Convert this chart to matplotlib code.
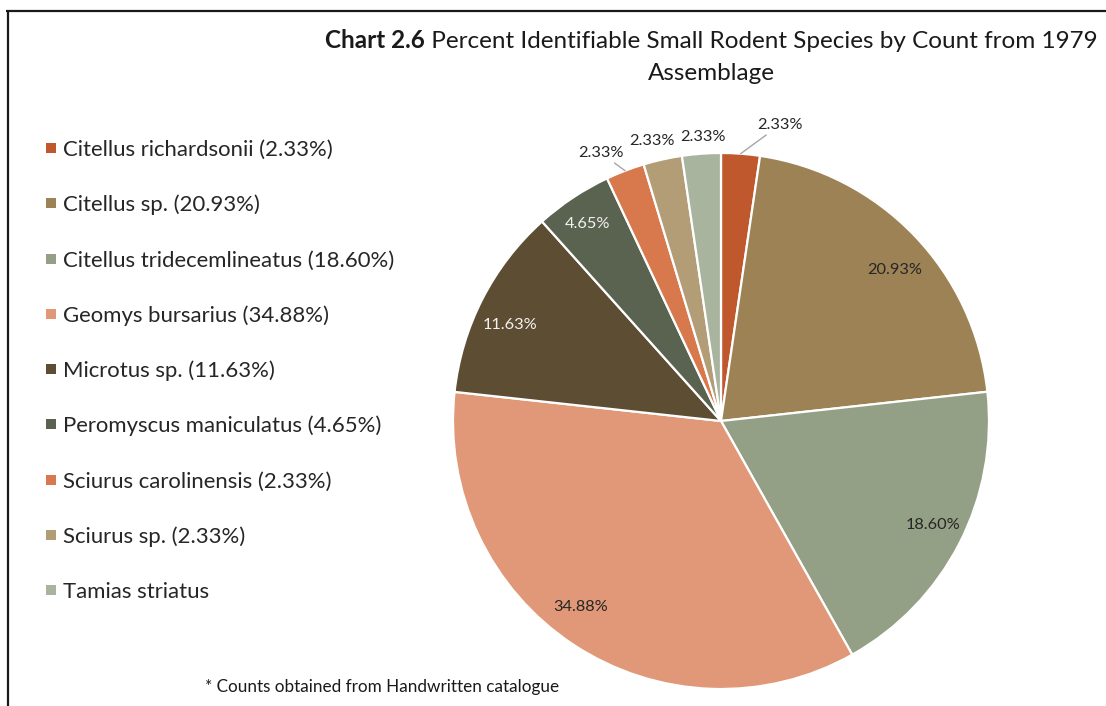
import matplotlib
matplotlib.use("Agg")
import numpy as np
import matplotlib.pyplot as plt
from matplotlib.patches import Rectangle

# ---- data ----
species = ["Citellus richardsonii", "Citellus sp.", "Citellus tridecemlineatus",
           "Geomys bursarius", "Microtus sp.", "Peromyscus maniculatus",
           "Sciurus carolinensis", "Sciurus sp.", "Tamias striatus"]
percent = [2.33, 20.93, 18.60, 34.88, 11.63, 4.65, 2.33, 2.33, 2.33]
legend_labels = ["Citellus richardsonii (2.33%)", "Citellus sp. (20.93%)",
                 "Citellus tridecemlineatus (18.60%)", "Geomys bursarius (34.88%)",
                 "Microtus sp. (11.63%)", "Peromyscus maniculatus (4.65%)",
                 "Sciurus carolinensis (2.33%)", "Sciurus sp. (2.33%)",
                 "Tamias striatus"]
colors = ["#BF582C", "#9C8254", "#94A085", "#E09878", "#5D4D33",
          "#5A6250", "#D8784D", "#B39D76", "#A9B49F"]
title_bold = "Chart 2.6"
title_rest = " Percent Identifiable Small Rodent Species by Count from 1979"
title_line2 = "Assemblage"
footnote = "* Counts obtained from Handwritten catalogue"

# ---- style ----
FONT = "Lato"
W, H = 1106, 706
CX, CY, R = 721, 421, 268          # pie centre / radius in pixels (from top)
inside = [False, True, True, True, True, True, False, False, False]
label_white = [False, False, False, False, True, True, False, False, False]
# small pixel nudges (x right, y down) for inside labels, as Excel's best-fit places them
inside_nudge = {1: (5.5, 9.5), 2: (4.5, -4), 3: (-12, -10.5), 4: (-3.5, 9), 5: (-5, -4.5)}
outside_offset = {0: (39, -30), 6: (-24, -19), 7: (-11, -20), 8: (2, -18)}
leader = {0: True, 6: True}

fig = plt.figure(figsize=(W / 100, H / 100), dpi=100)
ax = fig.add_axes([0, 0, 1, 1])
renderer = fig.canvas.get_renderer()


def width_at10(text, **kw):
    t = fig.text(0, 0, text, fontsize=10, family=FONT, **kw)
    w = t.get_window_extent(renderer).width
    t.remove()
    return w


def fit(text, target, **kw):
    return 10 * target / width_at10(text, **kw)


wedges, _ = ax.pie(percent, colors=colors, startangle=90, counterclock=False,
                   center=(CX, H - CY), radius=R,
                   wedgeprops=dict(edgecolor="white", linewidth=1.6))
ax.set_xlim(0, W)
ax.set_ylim(0, H)
ax.set_aspect("auto")
ax.axis("off")

# data labels
lab_size = fit("20.93%", 55)
for i, (w, v) in enumerate(zip(wedges, percent)):
    ang = np.deg2rad((w.theta1 + w.theta2) / 2)
    txt = f"{v:.2f}%"
    if inside[i]:
        nx, ny = inside_nudge.get(i, (0, 0))
        x = CX + 0.87 * R * np.cos(ang) + nx
        y = (H - CY) + 0.87 * R * np.sin(ang) - ny
        ax.text(x, y, txt, ha="center", va="center_baseline", fontsize=lab_size,
                family=FONT, color="#F2F2F2" if label_white[i] else "#262626")
    else:
        ex = CX + R * np.cos(ang)
        ey = (H - CY) + R * np.sin(ang)
        dx, dy = outside_offset[i]
        ap = dict(arrowstyle="-", color="#A6A6A6", lw=1, shrinkA=0, shrinkB=0) if leader.get(i) else None
        ax.annotate(txt, xy=(ex, ey), xytext=(ex + dx, ey - dy), textcoords="data",
                    ha="center", va="center_baseline", fontsize=lab_size, family=FONT,
                    color="#262626", arrowprops=ap)

# legend
leg_size = fit(legend_labels[2], 332)
for i, lab in enumerate(legend_labels):
    yc = 148 + 55.25 * i
    ax.add_patch(Rectangle((46, H - yc - 5), 10, 10, facecolor=colors[i], edgecolor="none"))
    ax.text(63, H - yc - 0.36 * leg_size / 0.72, lab, ha="left", va="baseline",
            fontsize=leg_size, family=FONT, color="#262626")

# title
wb = width_at10(title_bold, weight="bold")
wr = width_at10(title_rest)
tsize = 10 * 772 / (wb + wr)
x0 = 325
ax.text(x0, H - 48.5, title_bold, ha="left", va="baseline", fontsize=tsize,
        family=FONT, weight="bold", color="#1A1A1A")
ax.text(x0 + wb * tsize / 10, H - 48.5, title_rest, ha="left", va="baseline",
        fontsize=tsize, family=FONT, color="#1A1A1A")
ax.text(x0 + 772 / 2, H - 80.5, title_line2, ha="center", va="baseline",
        fontsize=tsize, family=FONT, color="#1A1A1A")

# footnote
fsize = fit(footnote, 355)
ax.text(205, H - 692, footnote, ha="left", va="baseline", fontsize=fsize,
        family=FONT, color="#1A1A1A")

# frame lines (top and left)
ax.plot([6, W], [H - 10.5, H - 10.5], color="#1A1A1A", lw=1.6, solid_capstyle="butt")
ax.plot([8, 8], [H - 10.5, 0], color="#1A1A1A", lw=1.6, solid_capstyle="butt")

fig.savefig("out.png", dpi=100)
